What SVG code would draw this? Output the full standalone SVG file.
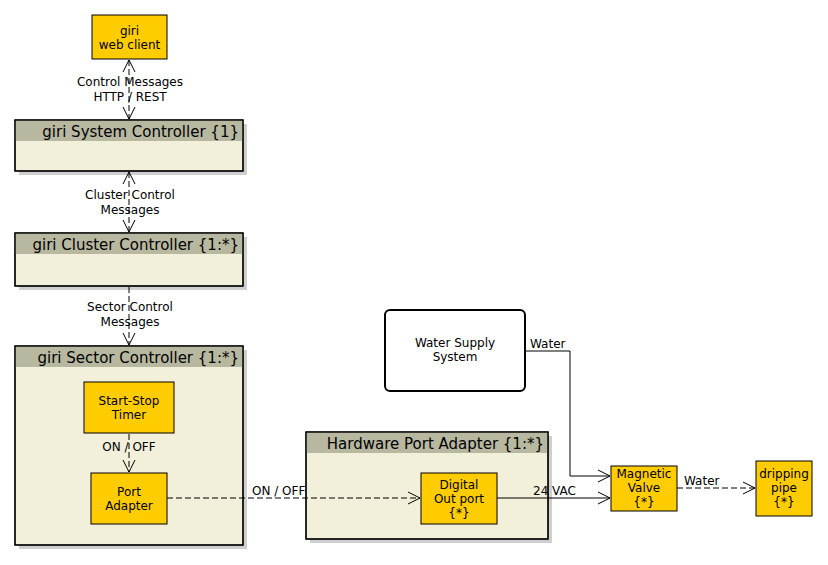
<svg xmlns="http://www.w3.org/2000/svg" width="828" height="565" viewBox="0 0 828 565">
<defs>
<style>
text{font-family:"DejaVu Sans",sans-serif;fill:#000}
.lbl{font-size:12px}
.nt{font-size:12px;text-anchor:middle}
.hd{font-size:15px;text-anchor:end}
.yel{fill:#FFCC00;stroke:#000;stroke-width:1}
.body{fill:#F2EFDA;stroke:#000;stroke-width:1.2}
.bar{fill:#B8B8A0}
.shadow{fill:#CFCFCF}
.dash{fill:none;stroke:#000;stroke-width:1;stroke-dasharray:6,3}
.solid{fill:none;stroke:#000;stroke-width:1}
.ah{fill:none;stroke:#000;stroke-width:1}
</style>
</defs>
<rect width="828" height="565" fill="#fff"/>

<g id="web-client">
<rect class="yel" x="92" y="15" width="75" height="44"/>
<text class="nt" x="129.5" y="35">giri</text>
<text class="nt" x="129.5" y="49">web client</text>
</g>

<g id="system-controller">
<rect class="shadow" x="19" y="124" width="228" height="51"/>
<rect class="body" x="15" y="120" width="228" height="51"/>
<rect class="bar" x="15.6" y="120.6" width="226.8" height="20.4"/>
<rect x="15" y="120" width="228" height="51" fill="none" stroke="#000" stroke-width="1.2"/>
<text class="hd" x="239" y="136.5">giri System Controller {1}</text>
</g>

<g id="cluster-controller">
<rect class="shadow" x="19" y="237" width="228" height="53"/>
<rect class="body" x="15" y="233" width="228" height="53"/>
<rect class="bar" x="15.6" y="233.6" width="226.8" height="20.4"/>
<rect x="15" y="233" width="228" height="53" fill="none" stroke="#000" stroke-width="1.2"/>
<text class="hd" x="239" y="249.5">giri Cluster Controller {1:*}</text>
</g>

<g id="sector-controller">
<rect class="shadow" x="19" y="350" width="228" height="199"/>
<rect class="body" x="15" y="346" width="228" height="199"/>
<rect class="bar" x="15.6" y="346.6" width="226.8" height="20.4"/>
<rect x="15" y="346" width="228" height="199" fill="none" stroke="#000" stroke-width="1.2"/>
<text class="hd" x="239" y="362.5">giri Sector Controller {1:*}</text>
</g>

<g id="start-stop-timer">
<rect class="yel" x="84" y="382" width="90" height="51"/>
<text class="nt" x="129" y="405">Start-Stop</text>
<text class="nt" x="129" y="419">Timer</text>
</g>

<g id="port-adapter">
<rect class="yel" x="91" y="473" width="76" height="51"/>
<text class="nt" x="129" y="496">Port</text>
<text class="nt" x="129" y="510">Adapter</text>
</g>

<g id="hardware-port-adapter">
<rect class="shadow" x="310" y="436" width="242" height="107"/>
<rect class="body" x="306" y="432" width="242" height="107"/>
<rect class="bar" x="306.6" y="432.6" width="240.8" height="20.4"/>
<rect x="306" y="432" width="242" height="107" fill="none" stroke="#000" stroke-width="1.2"/>
<text class="hd" x="544" y="448.5">Hardware Port Adapter {1:*}</text>
</g>

<g id="digital-out-port">
<rect class="yel" x="421" y="473" width="76" height="51"/>
<text class="nt" x="459" y="489">Digital</text>
<text class="nt" x="459" y="503">Out port</text>
<text class="nt" x="459" y="517">{*}</text>
</g>

<g id="water-supply-system">
<rect x="385" y="310" width="140" height="81" rx="5" ry="5" fill="#fff" stroke="#000" stroke-width="2"/>
<text class="nt" x="455" y="347">Water Supply</text>
<text class="nt" x="455" y="361">System</text>
</g>

<g id="magnetic-valve">
<rect class="yel" x="611" y="466" width="66" height="45"/>
<text class="nt" x="644" y="478">Magnetic</text>
<text class="nt" x="644" y="492">Valve</text>
<text class="nt" x="644" y="506">{*}</text>
</g>

<g id="dripping-pipe">
<rect class="yel" x="756" y="461" width="56" height="55"/>
<text class="nt" x="784" y="478">dripping</text>
<text class="nt" x="784" y="492">pipe</text>
<text class="nt" x="784" y="506">{*}</text>
</g>

<g id="connectors">
<line class="dash" x1="129" y1="60" x2="129" y2="119"/>
<path class="ah" d="M123,72 L129,60 L135,72"/>
<path class="ah" d="M123,107 L129,119 L135,107"/>
<text class="lbl" x="130" y="86" text-anchor="middle">Control Messages</text>
<text class="lbl" x="130" y="101" text-anchor="middle">HTTP / REST</text>

<line class="dash" x1="129" y1="172" x2="129" y2="232"/>
<path class="ah" d="M123,184 L129,172 L135,184"/>
<path class="ah" d="M123,220 L129,232 L135,220"/>
<text class="lbl" x="130" y="199" text-anchor="middle">Cluster Control</text>
<text class="lbl" x="130" y="214" text-anchor="middle">Messages</text>

<line class="dash" x1="129" y1="287" x2="129" y2="345"/>
<path class="ah" d="M123,333 L129,345 L135,333"/>
<text class="lbl" x="130" y="311" text-anchor="middle">Sector Control</text>
<text class="lbl" x="130" y="326" text-anchor="middle">Messages</text>

<line class="dash" x1="129" y1="434" x2="129" y2="472"/>
<path class="ah" d="M123,460 L129,472 L135,460"/>
<text class="lbl" x="129" y="451" text-anchor="middle">ON / OFF</text>

<line class="dash" x1="167" y1="498" x2="420" y2="498"/>
<path class="ah" d="M408,492 L420,498 L408,504"/>
<text class="lbl" x="252" y="495">ON / OFF</text>

<line class="solid" x1="497" y1="498" x2="610" y2="498"/>
<path class="ah" d="M598,492 L610,498 L598,504"/>
<text class="lbl" x="533" y="495">24 VAC</text>

<polyline class="solid" points="525,351 570,351 570,476 610,476"/>
<path class="ah" d="M598,470 L610,476 L598,482"/>
<text class="lbl" x="530" y="348">Water</text>

<line class="dash" x1="677" y1="488" x2="755" y2="488"/>
<path class="ah" d="M743,482 L755,488 L743,494"/>
<text class="lbl" x="684" y="485">Water</text>
</g>
</svg>
